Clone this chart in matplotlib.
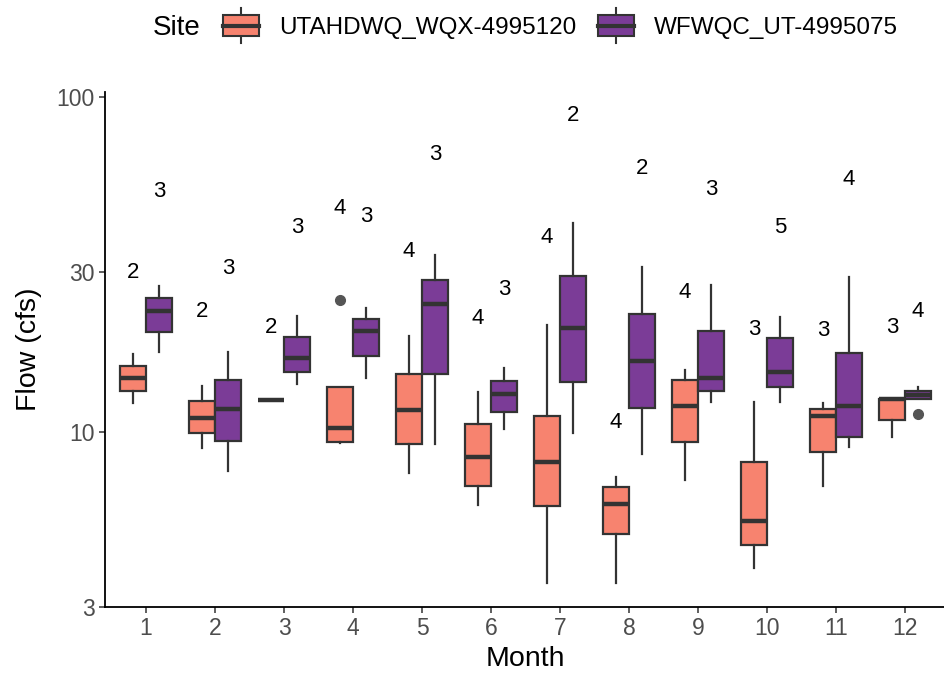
import matplotlib
matplotlib.use("Agg")
import matplotlib.pyplot as plt
from matplotlib.patches import Patch, Rectangle
from matplotlib.lines import Line2D
from matplotlib.legend_handler import HandlerBase

plt.rcParams['font.family'] = ['Liberation Sans', 'DejaVu Sans']

# ---- data (flow in cfs) ----
months = [1, 2, 3, 4, 5, 6, 7, 8, 9, 10, 11, 12]
sites = ["UTAHDWQ_WQX-4995120", "WFWQC_UT-4995075"]

utah_lo = [12.2, 8.96, 12.5, 9.27, 7.54, 6.04, 3.53, 3.53, 7.18, 3.92, 6.89, 9.66]
utah_q1 = [13.3, 9.93, 12.5, 9.33, 9.21, 6.89, 6.0, 4.95, 9.33, 4.59, 8.71, 10.9]
utah_med = [14.5, 11.0, 12.5, 10.3, 11.6, 8.41, 8.13, 6.09, 11.96, 5.41, 11.2, 12.55]
utah_q3 = [15.8, 12.4, 12.5, 13.6, 14.9, 10.6, 11.2, 6.84, 14.3, 8.13, 11.7, 12.55]
utah_hi = [17.1, 13.7, 12.5, 13.6, 19.4, 13.2, 20.9, 7.33, 15.3, 12.3, 12.2, 12.55]
utah_out = [[], [], [], [24.8], [], [], [], [], [], [], [], []]
utah_n = [2, 2, 2, 4, 4, 4, 4, 4, 4, 3, 3, 3]
utah_label_y = [29.9, 22.9, 20.5, 46.5, 34.6, 21.8, 38.1, 10.7, 26.1, 20.3, 20.1, 20.6]

wf_lo = [17.4, 7.64, 13.9, 14.5, 9.21, 10.2, 9.93, 8.59, 12.3, 12.3, 9.02, 12.55]
wf_q1 = [19.9, 9.4, 15.1, 16.9, 14.9, 11.5, 14.1, 11.8, 13.3, 13.6, 9.66, 12.55]
wf_med = [23.0, 11.7, 16.7, 20.1, 24.2, 13.0, 20.5, 16.3, 14.5, 15.1, 11.96, 12.9]
wf_q3 = [25.2, 14.3, 19.2, 21.8, 28.5, 14.2, 29.3, 22.6, 20.1, 19.1, 17.2, 13.3]
wf_hi = [27.4, 17.4, 22.2, 23.5, 33.7, 15.5, 42.2, 31.2, 27.5, 22.1, 29.1, 13.65]
wf_out = [[], [], [], [], [], [], [], [], [], [], [], [11.3]]
wf_n = [3, 3, 3, 3, 3, 3, 2, 2, 3, 5, 4, 4]
wf_label_y = [52.3, 30.8, 40.8, 44.0, 67.5, 26.6, 88.3, 61.3, 53.0, 40.8, 56.8, 22.9]

y_ticks = [3, 10, 30, 100]

PINK = "#F7836F"
PURPLE = "#7B3C97"
EDGE = "#333333"


def make_stats(lo, q1, med, q3, hi, out):
    return [dict(whislo=a, q1=b, med=c, q3=d, whishi=e, fliers=f)
            for a, b, c, d, e, f in zip(lo, q1, med, q3, hi, out)]


class BoxKey(HandlerBase):
    # 图例里画一个小箱线图
    def create_artists(self, legend, orig_handle, xdescent, ydescent,
                       width, height, fontsize, trans):
        x0, y0 = -xdescent, -ydescent
        xm = x0 + width / 2
        ext = 0.35 * height
        box = Rectangle((x0, y0), width, height, facecolor=orig_handle.get_facecolor(),
                        edgecolor=EDGE, linewidth=1.5, transform=trans)
        w1 = Line2D([xm, xm], [y0 + height, y0 + height + ext], color=EDGE, lw=1.5, transform=trans)
        w2 = Line2D([xm, xm], [y0 - ext, y0], color=EDGE, lw=1.5, transform=trans)
        med = Line2D([x0, x0 + width], [y0 + height / 2] * 2, color=EDGE, lw=3, transform=trans)
        return [w1, w2, box, med]


fig = plt.figure(figsize=(9.44, 6.81), dpi=100)
ax = fig.add_axes([104.6 / 944, (681 - 607) / 681, 841.8 / 944, 515 / 681])

offset = 0.1875
groups = [
    (make_stats(utah_lo, utah_q1, utah_med, utah_q3, utah_hi, utah_out), -offset, PINK, utah_n, utah_label_y),
    (make_stats(wf_lo, wf_q1, wf_med, wf_q3, wf_hi, wf_out), offset, PURPLE, wf_n, wf_label_y),
]

for stats, dx, color, counts, label_y in groups:
    pos = [m + dx for m in months]
    ax.bxp(stats, positions=pos, widths=0.375, patch_artist=True, showcaps=False,
           boxprops=dict(facecolor=color, edgecolor=EDGE, linewidth=1.6),
           medianprops=dict(color=EDGE, linewidth=3.2, solid_capstyle='butt'),
           whiskerprops=dict(color=EDGE, linewidth=1.6),
           flierprops=dict(marker='o', markerfacecolor='#555555', markeredgecolor='#555555',
                           markersize=7))
    for x, n, y in zip(pos, counts, label_y):
        ax.text(x, y, str(n), ha='center', va='center', fontsize=16, color='black')

ax.set_yscale('log')
ax.set_ylim(3.0, 103.8)
ax.set_xlim(0.4, 12.6)
ax.set_yticks(y_ticks)
ax.set_yticklabels([str(t) for t in y_ticks])
ax.minorticks_off()
ax.set_xticks(months)
ax.set_xticklabels([str(m) for m in months])

for side in ['top', 'right']:
    ax.spines[side].set_visible(False)
for side in ['left', 'bottom']:
    ax.spines[side].set_linewidth(1.3)
    ax.spines[side].set_color('black')
ax.tick_params(length=4, width=1.1, color='#333333', labelcolor='#4D4D4D',
               labelsize=16.5, pad=3)

ax.set_xlabel("Month", fontsize=20.5)
ax.set_ylabel("Flow (cfs)", fontsize=20.5)
ax.xaxis.set_label_coords(0.5, -0.075)
ax.yaxis.set_label_coords(-0.074, 0.5)

# -------- 图例放在顶部 --------
fig.text(153 / 944, 1 - 28 / 681, "Site", fontsize=20, va='center', ha='left')
handles = [Patch(facecolor=PINK), Patch(facecolor=PURPLE)]
fig.legend(handles, sites, handler_map={Patch: BoxKey()}, loc='center left',
           bbox_to_anchor=(223 / 944, 1 - 27 / 681), ncol=2, frameon=False,
           fontsize=17.5, borderpad=0, borderaxespad=0, handlelength=1.48,
           handleheight=0.95, handletextpad=0.82, columnspacing=0.9)

fig.savefig("out.png", dpi=100)
